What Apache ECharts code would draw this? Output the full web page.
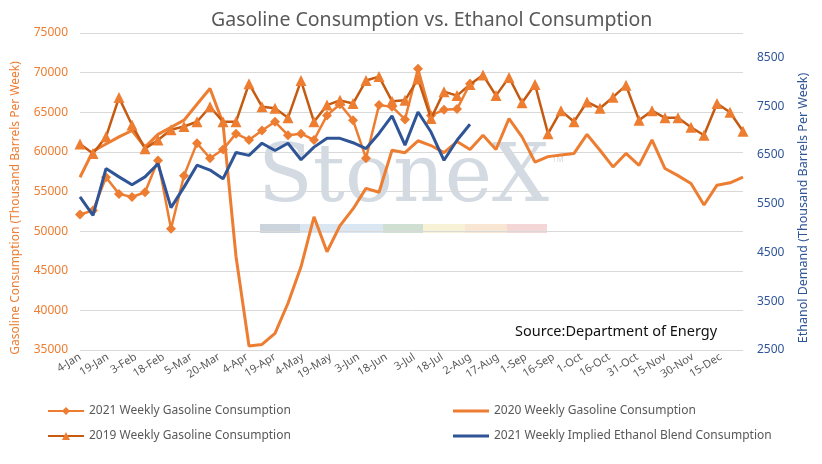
<!DOCTYPE html>
<html><head><meta charset="utf-8">
<script src="https://cdn.jsdelivr.net/npm/echarts@6/dist/echarts.min.js"></script>
<style>html,body{margin:0;padding:0;background:#fff}#c{width:822px;height:464px}</style>
</head><body><div id="c"></div>
<script>
// Weekly categories (2021 calendar, MM-DD)
const weeks = ['01-04','01-11','01-18','01-25','02-01','02-08','02-15','02-22','03-01','03-08','03-15','03-22','03-29','04-05','04-12','04-19','04-26','05-03','05-10','05-17','05-24','05-31','06-07','06-14','06-21','06-28','07-05','07-12','07-19','07-26','08-02','08-09','08-16','08-23','08-30','09-06','09-13','09-20','09-27','10-04','10-11','10-18','10-25','11-01','11-08','11-15','11-22','11-29','12-06','12-13','12-20','12-27'];
// X tick labels (every 15 days from 4-Jan)
const tickLabels = ['4-Jan','19-Jan','3-Feb','18-Feb','5-Mar','20-Mar','4-Apr','19-Apr','4-May','19-May','3-Jun','18-Jun','3-Jul','18-Jul','2-Aug','17-Aug','1-Sep','16-Sep','1-Oct','16-Oct','31-Oct','15-Nov','30-Nov','15-Dec'];
const gas2021 = [52100,52600,56800,54700,54300,54900,58900,50300,57000,61100,59200,60300,62300,61500,62700,63800,62100,62300,61500,64600,66000,64000,59200,65900,65700,64100,70500,64600,65300,65400,68600];
const gas2020 = [56800,60100,61000,61900,62700,60600,62200,63100,64000,66000,68000,63600,46800,35500,35700,37100,40900,45500,51800,47400,50700,52800,55400,54900,60200,59900,61400,60800,59900,61300,60300,62100,60300,64200,61900,58700,59400,59600,59800,62200,60200,58100,59800,58300,61500,57900,57000,56000,53300,55800,56100,56800];
const gas2019 = [61000,59800,61900,66850,63400,60400,61500,62800,63200,63800,65700,63800,63800,68600,65700,65500,64300,69000,63800,65900,66500,66100,69000,69500,66400,66500,69200,64200,67600,67100,68500,69700,67100,69400,66200,68500,62300,65200,63800,66300,65500,66900,68400,64000,65200,64300,64300,63100,62100,66100,65000,62600];
const ethanol2021 = [5640,5260,6220,6050,5890,6050,6320,5420,5840,6290,6190,6010,6550,6490,6740,6590,6740,6400,6660,6840,6840,6750,6630,6940,7300,6700,7380,6970,6390,6800,7130];

const DAY = 86400000;
const start = Date.UTC(2021, 0, 4);
const dayOf = s => { const [m, d] = s.split('-').map(Number); return Math.round((Date.UTC(2021, m - 1, d) - start) / DAY); };
const pairs = arr => arr.map((v, i) => [dayOf(weeks[i]), v]);
const lastDay = dayOf(weeks[weeks.length - 1]);

const FONT = 'Noto Sans';
const chart = echarts.init(document.getElementById('c'));
chart.setOption({
  animation: false,
  backgroundColor: '#fff',
  textStyle: { fontFamily: FONT },
  title: {
    text: 'Gasoline Consumption vs. Ethanol Consumption',
    left: 206, top: 5,
    textStyle: { fontFamily: FONT, fontSize: 19.5, fontWeight: 'normal', color: '#595959' }
  },
  grid: { left: 80, right: 79, top: 33, bottom: 114 },
  legend: [
    { data: ['2021 Weekly Gasoline Consumption', '2019 Weekly Gasoline Consumption'],
      orient: 'vertical', left: 42, top: 400, itemWidth: 36, itemHeight: 10, itemGap: 13,
      textStyle: { fontFamily: FONT, fontSize: 12, color: '#595959' } },
    { data: ['2020 Weekly Gasoline Consumption', '2021 Weekly Implied Ethanol Blend Consumption'],
      orient: 'vertical', left: 448, top: 400, itemWidth: 36, itemHeight: 10, itemGap: 13,
      icon: 'path://M0,4H36V7H0Z',
      textStyle: { fontFamily: FONT, fontSize: 12, color: '#595959' } }
  ],
  xAxis: {
    type: 'value', min: 0, max: lastDay, interval: 15,
    axisLine: { show: false }, axisTick: { show: false }, splitLine: { show: false },
    axisLabel: {
      rotate: 32, margin: 6, fontSize: 11, color: '#595959', showMaxLabel: false,
      formatter: v => (v % 15 === 0 && tickLabels[v / 15]) ? tickLabels[v / 15] : ''
    }
  },
  yAxis: [
    { type: 'value', min: 35000, max: 75000, interval: 5000,
      axisLine: { show: false }, axisTick: { show: false },
      splitLine: { lineStyle: { color: '#D9D9D9', width: 1 } },
      axisLabel: { color: '#ED7D31', fontSize: 12, margin: 12, formatter: v => String(v) },
      name: 'Gasoline Consumption (Thousand Barrels Per Week)',
      nameLocation: 'middle', nameGap: 58,
      nameTextStyle: { color: '#ED7D31', fontSize: 12, padding: [0, 33, 0, 0] } },
    { type: 'value', position: 'right', min: 2500, max: 9000, interval: 1000,
      axisLine: { show: false }, axisTick: { show: false }, splitLine: { show: false },
      axisLabel: { color: '#2F5597', fontSize: 12, margin: 14, showMaxLabel: false,
        formatter: v => (v === 9000 ? '' : String(v)) },
      name: 'Ethanol Demand (Thousand Barrels Per Week)',
      nameLocation: 'middle', nameGap: 54, nameRotate: 90,
      nameTextStyle: { color: '#2F5597', fontSize: 12.5, padding: [0, 33, 0, 0] } }
  ],
  graphic: [
    { type: 'text', z: 0, silent: true, left: 258, top: 140,
      style: { text: 'StoneX', fontFamily: 'DejaVu Serif', fontSize: 80, fill: '#D3DAE2' } },
    { type: 'text', z: 0, silent: true, left: 552, top: 156,
      style: { text: 'TM', fontFamily: FONT, fontSize: 8, fill: '#D3DAE2' } },
    { type: 'rect', z: 0, silent: true, shape: { x: 260, y: 224, width: 40, height: 9 }, style: { fill: '#CBD3DD' } },
    { type: 'rect', z: 0, silent: true, shape: { x: 300, y: 224, width: 83, height: 9 }, style: { fill: '#DAE6F1' } },
    { type: 'rect', z: 0, silent: true, shape: { x: 383, y: 224, width: 40, height: 9 }, style: { fill: '#CFE0D3' } },
    { type: 'rect', z: 0, silent: true, shape: { x: 423, y: 224, width: 42, height: 9 }, style: { fill: '#F7F2D6' } },
    { type: 'rect', z: 0, silent: true, shape: { x: 465, y: 224, width: 42, height: 9 }, style: { fill: '#F8E6D2' } },
    { type: 'rect', z: 0, silent: true, shape: { x: 507, y: 224, width: 40, height: 9 }, style: { fill: '#F4D6D6' } },
    { type: 'text', z: 5, silent: true, left: 515, top: 324,
      style: { text: 'Source:Department of Energy', fontFamily: FONT, fontSize: 14.5, fill: '#111' } }
  ],
  series: [
    { name: '2021 Weekly Gasoline Consumption', type: 'line', yAxisIndex: 0, data: pairs(gas2021),
      symbol: 'diamond', symbolSize: 10, showAllSymbol: true,
      lineStyle: { color: '#ED7D31', width: 2.5 }, itemStyle: { color: '#ED7D31' }, z: 3 },
    { name: '2020 Weekly Gasoline Consumption', type: 'line', yAxisIndex: 0, data: pairs(gas2020),
      symbol: 'none', lineStyle: { color: '#ED7D31', width: 3 }, itemStyle: { color: '#ED7D31' }, z: 2 },
    { name: '2019 Weekly Gasoline Consumption', type: 'line', yAxisIndex: 0, data: pairs(gas2019),
      symbol: 'triangle', symbolSize: 11, showAllSymbol: true,
      lineStyle: { color: '#C55A11', width: 2.5 }, itemStyle: { color: '#ED7D31' }, z: 4 },
    { name: '2021 Weekly Implied Ethanol Blend Consumption', type: 'line', yAxisIndex: 1, data: pairs(ethanol2021),
      symbol: 'none', lineStyle: { color: '#2F5597', width: 3 }, itemStyle: { color: '#2F5597' }, z: 5 }
  ]
});
</script></body></html>
